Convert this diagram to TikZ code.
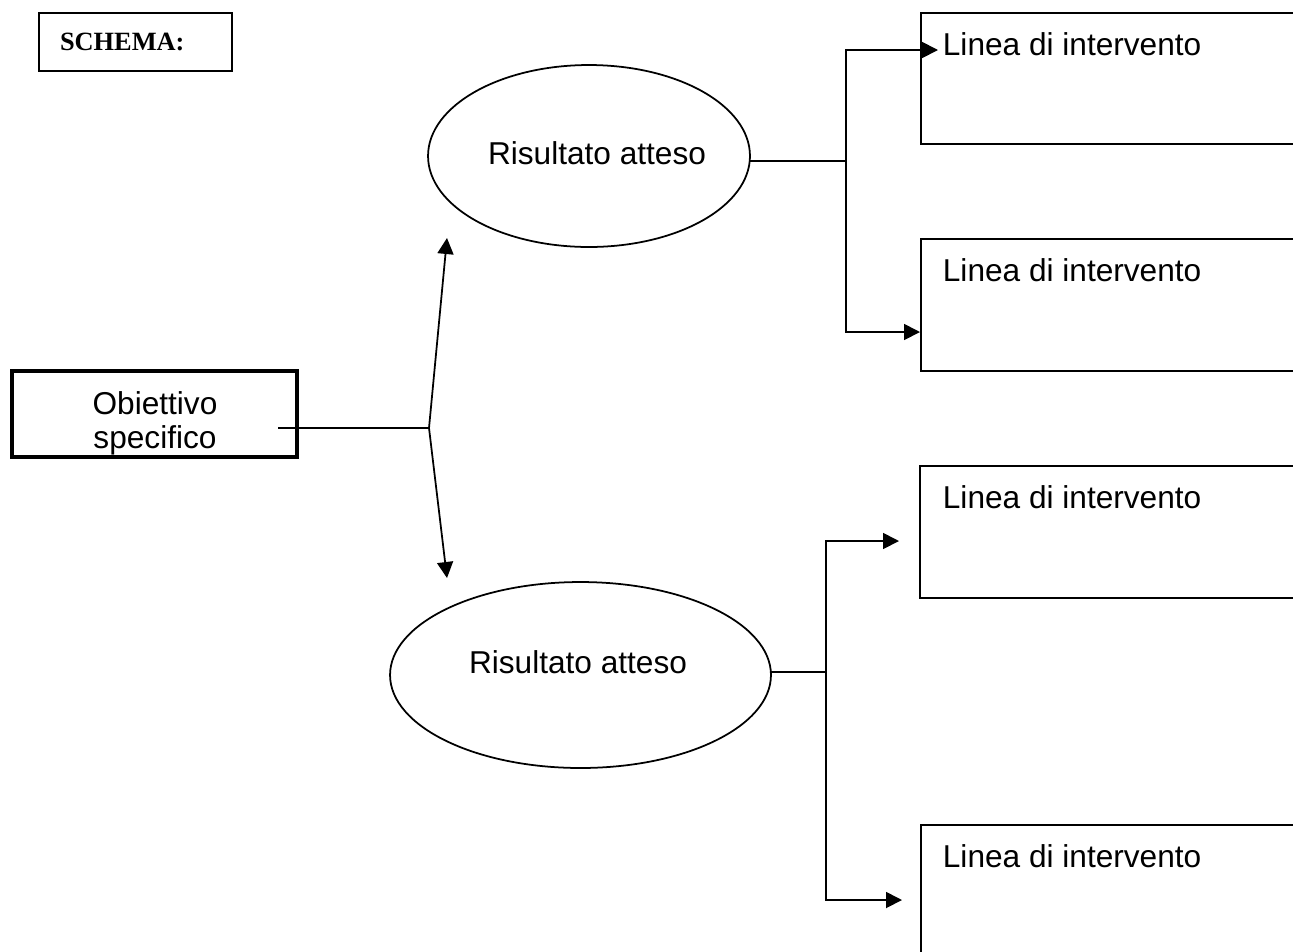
\documentclass[tikz,border=0pt]{standalone}
\usepackage{fontspec}
\setmainfont{Liberation Sans}
\newfontfamily\serifb{Liberation Serif}
\usetikzlibrary{arrows.meta,shapes.geometric}
\begin{document}
\begin{tikzpicture}[x=0.02cm,y=-0.02cm,
  line width=1pt,
  arr/.style={-{Triangle[length=0.32cm,width=0.32cm]}},
  linebox/.style={draw, anchor=north west, minimum width=7.8cm, inner sep=0},
  lbl/.style={font=\fontsize{18}{19.5}\selectfont, inner sep=0},
  oval/.style={draw, ellipse, inner sep=0}]
\useasboundingbox (0,0) rectangle (1293,951);
\clip (0,0) rectangle (1293,951);
% title box
\node[draw, line width=1.3pt, minimum width=3.86cm, minimum height=1.16cm,
      inner xsep=0.42cm, text width=3.02cm, align=left,
      font=\serifb\bfseries\fontsize{15}{17}\selectfont] (schema) at (135.5,42) {SCHEMA:};
% objective
\node[draw, line width=2pt, minimum width=5.7cm, minimum height=1.72cm] (obj) at (154.5,414) {};
\node[lbl, align=center] (objtxt) at (155,423) {Obiettivo\\specifico};
% ellipses
\node[oval, minimum width=6.44cm, minimum height=3.64cm] (e1) at (589,156) {};
\node[lbl] (rt1) at (597,153) {Risultato atteso};
\node[oval, minimum width=7.62cm, minimum height=3.72cm] (e2) at (580.5,675) {};
\node[lbl] (rt2) at (578,662) {Risultato atteso};
% right boxes
\node[linebox, minimum height=2.62cm] (b1) at (920,12) {};
\node[linebox, minimum height=2.64cm] (b2) at (920,238) {};
\node[linebox, minimum height=2.64cm] (b3) at (919,465) {};
\node[linebox, minimum height=2.72cm] (b4) at (920,824) {};
\node[lbl, anchor=west] (l1) at (942,44) {Linea di intervento};
\node[lbl, anchor=west] (l2) at (942,270) {Linea di intervento};
\node[lbl, anchor=west] (l3) at (942,497) {Linea di intervento};
\node[lbl, anchor=west] (l4) at (942,856) {Linea di intervento};
% connectors from objective
\coordinate (o1) at (278,428);
\coordinate (j) at (429,428);
\coordinate (t1) at (447,238);
\coordinate (t2) at (447,578);
\draw (o1) -- (j);
\draw[arr] (j) -- (t1);
\draw[arr] (j) -- (t2);
% top right
\coordinate (e1r) at (750,161);
\coordinate (v1) at (846,161);
\coordinate (a1) at (938,50);
\coordinate (a2) at (920,332);
\draw (e1r) -- (v1);
\draw[arr] (v1) |- (a1);
\draw[arr] (v1) |- (a2);
% bottom right
\coordinate (e2r) at (770,672);
\coordinate (v2) at (826,672);
\coordinate (a3) at (899,541);
\coordinate (a4) at (902,900);
\draw (e2r) -- (v2);
\draw[arr] (v2) |- (a3);
\draw[arr] (v2) |- (a4);
\end{tikzpicture}
\end{document}
